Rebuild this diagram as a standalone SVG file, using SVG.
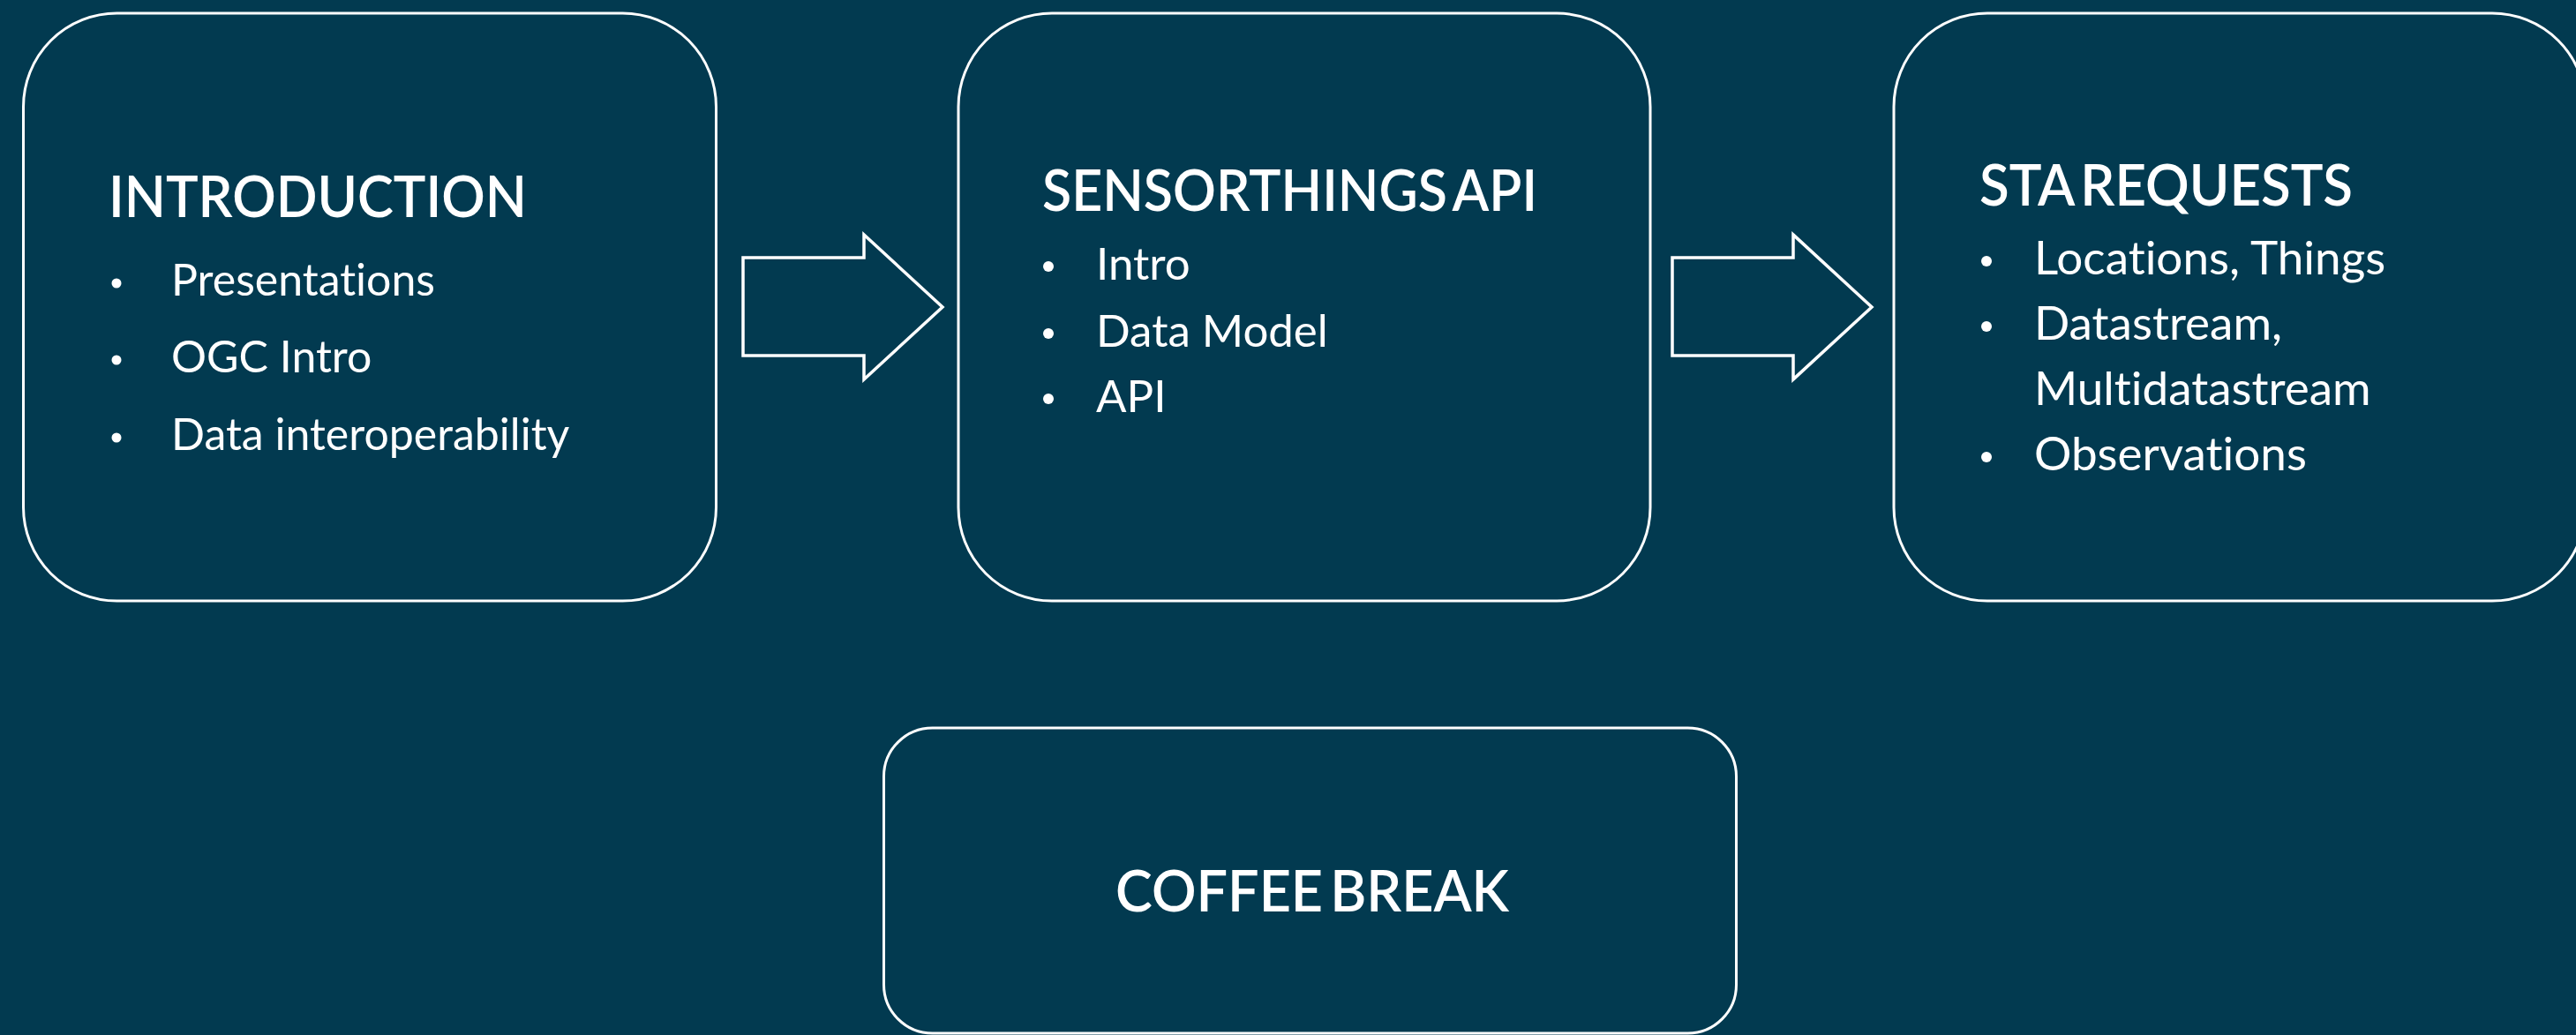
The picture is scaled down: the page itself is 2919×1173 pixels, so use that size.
<svg xmlns="http://www.w3.org/2000/svg" width="2919" height="1173" viewBox="0 0 2919 1173">
<style>
.box{fill:none;stroke:#ffffff;stroke-width:3}
.arrow{fill:none;stroke:#ffffff;stroke-width:3.5;stroke-linejoin:miter}
.dot{fill:#ffffff}
text{font-family:Lato,"Liberation Sans",sans-serif;fill:#ffffff;font-variant-ligatures:none}
.title{font-weight:600;font-size:66px;word-spacing:-8px}
.b1{font-size:50px}
.b2{font-size:51px}
.b3{font-size:53px}
</style>
<rect width="2919" height="1173" fill="#023a50"/>
<g id="node-introduction">
<rect class="box" x="26.5" y="15" width="785" height="666" rx="106" ry="106"/>
<text class="title" x="123" y="246" textLength="474" lengthAdjust="spacingAndGlyphs">INTRODUCTION</text>
<circle class="dot" cx="132" cy="321" r="5.5"/><text class="b1" x="194" y="335">Presentations</text>
<circle class="dot" cx="132" cy="408" r="5.5"/><text class="b1" x="194" y="422">OGC Intro</text>
<circle class="dot" cx="132" cy="496" r="5.5"/><text class="b1" x="194" y="510">Data interoperability</text>
</g>
<g id="node-sensorthings">
<rect class="box" x="1086" y="15" width="784" height="666" rx="106" ry="106"/>
<text class="title" x="1181" y="239" textLength="561" lengthAdjust="spacingAndGlyphs">SENSORTHINGS API</text>
<circle class="dot" cx="1188" cy="302" r="6"/><text class="b2" x="1242" y="317">Intro</text>
<circle class="dot" cx="1188" cy="378" r="6"/><text class="b2" x="1242" y="393">Data Model</text>
<circle class="dot" cx="1188" cy="452" r="6"/><text class="b2" x="1242" y="467">API</text>
</g>
<g id="node-sta-requests">
<rect class="box" x="2146" y="15" width="784" height="666" rx="106" ry="106"/>
<text class="title" x="2243" y="233" textLength="423" lengthAdjust="spacingAndGlyphs">STA REQUESTS</text>
<circle class="dot" cx="2251" cy="296" r="6"/><text class="b3" x="2305" y="311">Locations, Things</text>
<circle class="dot" cx="2251" cy="370" r="6"/><text class="b3" x="2305" y="385">Datastream,</text>
<text class="b3" x="2305" y="459">Multidatastream</text>
<circle class="dot" cx="2251" cy="518" r="6"/><text class="b3" x="2305" y="533">Observations</text>
</g>
<g id="node-coffee-break">
<rect class="box" x="1001.5" y="825" width="966" height="346" rx="55" ry="55"/>
<text class="title" x="1264" y="1033" textLength="446" lengthAdjust="spacingAndGlyphs">COFFEE BREAK</text>
</g>
<g id="connectors">
<polygon class="arrow" points="842,292 979,292 979,266 1068,348 979,430 979,403 842,403"/>
<polygon class="arrow" points="1895,292 2032,292 2032,266 2121,348 2032,430 2032,403 1895,403"/>
</g>
</svg>
